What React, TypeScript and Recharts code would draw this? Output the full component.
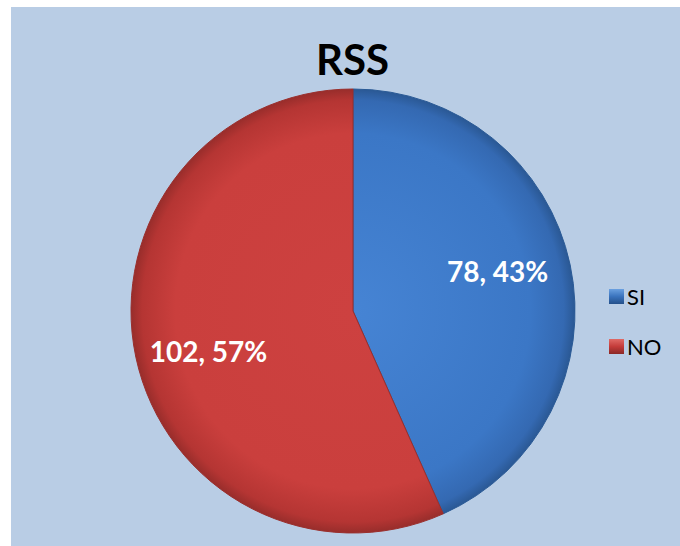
import React from "react";
import { PieChart, Pie, Cell, Legend } from "recharts";

const categories = ["SI", "NO"];
const counts = [78, 102];
const percents = [43, 57];

const data = categories.map((name, i) => ({
  name,
  value: counts[i],
  pct: percents[i],
}));

const fills = ["url(#gradSI)", "url(#gradNO)"];
const strokes = ["#2a5a96", "#9a2f2d"];
const markerColors = ["#3a73bd", "#c43c3a"];

const RADIAN = Math.PI / 180;

// labels sit a little counter-clockwise of the slice middle, like the original
const renderLabel = ({ cx, cy, midAngle, index }) => {
  const r = 150;
  const a = (midAngle + 3.5) * RADIAN;
  const x = cx + r * Math.cos(-a);
  const y = cy + r * Math.sin(-a);
  const d = data[index];
  return (
    <text
      x={x}
      y={y}
      fill="#ffffff"
      textAnchor="middle"
      dominantBaseline="central"
      fontFamily="Lato, 'Open Sans', sans-serif"
      fontWeight="bold"
      fontSize={28}
    >
      {`${d.value}, ${d.pct}%`}
    </text>
  );
};

const renderLegend = () => (
  <div style={{ fontFamily: "Lato, 'Open Sans', sans-serif", fontSize: 22 }}>
    {data.map((d, i) => (
      <div
        key={d.name}
        style={{ display: "flex", alignItems: "center", height: 50 }}
      >
        <span
          style={{
            display: "inline-block",
            width: 15,
            height: 15,
            marginRight: 3,
            background: `linear-gradient(180deg, ${i === 0 ? "#6aa0e0" : "#e06a66"} 0%, ${markerColors[i]} 50%, ${i === 0 ? "#24508a" : "#8a2826"} 100%)`,
          }}
        />
        <span style={{ color: "#000" }}>{d.name}</span>
      </div>
    ))}
  </div>
);

export default function App() {
  return (
    <div
      style={{
        position: "absolute",
        left: 0,
        top: 0,
        width: 680,
        height: 546,
        background: "#ffffff",
      }}
    >
      <div
        style={{
          position: "absolute",
          left: 11,
          top: 7,
          width: 669,
          height: 539,
          background: "#b9cde5",
        }}
      >
        <div
          style={{
            position: "absolute",
            left: 0,
            width: 683,
            top: 29,
            textAlign: "center",
            fontFamily: "Lato, 'Open Sans', sans-serif",
            fontWeight: "bold",
            fontSize: 42,
            lineHeight: "46px",
            color: "#000",
          }}
        >
          RSS
        </div>
        <PieChart width={669} height={539} margin={{ top: 0, right: 0, bottom: 0, left: 0 }}>
          <defs>
            <radialGradient id="gradSI" cx="342" cy="304" r="222" gradientUnits="userSpaceOnUse">
              <stop offset="0%" stopColor="#4684d4" />
              <stop offset="80%" stopColor="#3b77c6" />
              <stop offset="95%" stopColor="#3469b2" />
              <stop offset="100%" stopColor="#2a5894" />
            </radialGradient>
            <radialGradient id="gradNO" cx="342" cy="304" r="222" gradientUnits="userSpaceOnUse">
              <stop offset="0%" stopColor="#cd4140" />
              <stop offset="80%" stopColor="#ca3f3d" />
              <stop offset="95%" stopColor="#b53533" />
              <stop offset="100%" stopColor="#982d2b" />
            </radialGradient>
          </defs>
          <Pie
            data={data}
            dataKey="value"
            nameKey="name"
            cx={342}
            cy={304}
            outerRadius={222}
            startAngle={90}
            endAngle={-270}
            label={renderLabel}
            labelLine={false}
            isAnimationActive={false}
          >
            {data.map((d, i) => (
              <Cell key={d.name} fill={fills[i]} stroke={strokes[i]} strokeWidth={1} />
            ))}
          </Pie>
          <Legend
            layout="vertical"
            content={renderLegend}
            wrapperStyle={{ position: "absolute", left: 598, top: 264, width: 70 }}
          />
        </PieChart>
      </div>
    </div>
  );
}
